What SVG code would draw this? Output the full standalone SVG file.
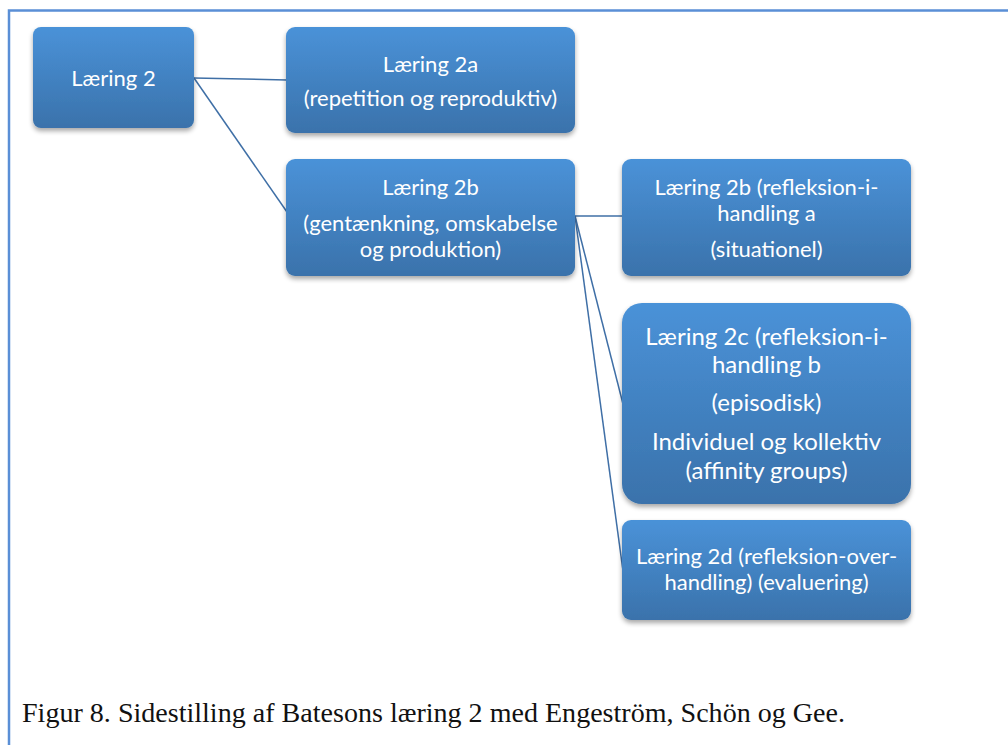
<svg xmlns="http://www.w3.org/2000/svg" width="1008" height="745" viewBox="0 0 1008 745">
  <defs>
    <linearGradient id="boxFill" x1="0" y1="0" x2="0" y2="1">
      <stop offset="0" stop-color="#4a92d8"/>
      <stop offset="1" stop-color="#3a72ab"/>
    </linearGradient>
    <filter id="shadow" x="-10%" y="-10%" width="120%" height="130%">
      <feGaussianBlur in="SourceAlpha" stdDeviation="2.5"/>
      <feOffset dx="0" dy="3" result="b"/>
      <feComponentTransfer><feFuncA type="linear" slope="0.35"/></feComponentTransfer>
      <feMerge><feMergeNode/><feMergeNode in="SourceGraphic"/></feMerge>
    </filter>
    <style>
      .box { fill: url(#boxFill); filter: url(#shadow); }
      .lbl { fill: #ffffff; font-family: Lato, "Open Sans", "Liberation Sans", sans-serif; font-size: 22px; text-anchor: middle; }
      .big { font-size: 24px; }
      .conn { stroke: #3f6fa6; stroke-width: 1.5; fill: none; }
      .cap { fill: #111111; font-family: "Liberation Serif", serif; font-size: 27px; }
    </style>
  </defs>
  <rect width="1008" height="745" fill="#ffffff"/>
  <!-- outer frame -->
  <path d="M9 760 V10.5 H1020" fill="none" stroke="#5a8fd6" stroke-width="2.5"/>

  <g id="connectors">
    <line class="conn" x1="194" y1="78" x2="287" y2="80"/>
    <line class="conn" x1="194" y1="78" x2="287" y2="212"/>
    <line class="conn" x1="575" y1="216" x2="623" y2="216"/>
    <line class="conn" x1="575" y1="216" x2="623" y2="404"/>
    <line class="conn" x1="575" y1="216" x2="623" y2="571"/>
  </g>

  <g id="node-laering2">
    <rect class="box" x="33" y="27" width="161" height="101" rx="8"/>
    <text class="lbl" x="113.5" y="86">Læring 2</text>
  </g>
  <g id="node-laering2a">
    <rect class="box" x="286" y="27" width="289" height="106" rx="9"/>
    <text class="lbl" x="430.5" y="72">Læring 2a</text>
    <text class="lbl" x="430.5" y="106">(repetition og reproduktiv)</text>
  </g>
  <g id="node-laering2b">
    <rect class="box" x="286" y="159" width="289" height="117" rx="9"/>
    <text class="lbl" x="430.5" y="195">Læring 2b</text>
    <text class="lbl" x="430.5" y="231">(gentænkning, omskabelse</text>
    <text class="lbl" x="430.5" y="257">og produktion)</text>
  </g>
  <g id="node-laering2b-refleksion">
    <rect class="box" x="622" y="159" width="289" height="117" rx="9"/>
    <text class="lbl" x="766.5" y="195">Læring 2b (refleksion-i-</text>
    <text class="lbl" x="766.5" y="221">handling a</text>
    <text class="lbl" x="766.5" y="257">(situationel)</text>
  </g>
  <g id="node-laering2c">
    <rect class="box" x="622" y="303" width="289" height="201" rx="20"/>
    <text class="lbl big" x="766.5" y="345">Læring 2c (refleksion-i-</text>
    <text class="lbl big" x="766.5" y="373">handling b</text>
    <text class="lbl big" x="766.5" y="411">(episodisk)</text>
    <text class="lbl big" x="766.5" y="450">Individuel og kollektiv</text>
    <text class="lbl big" x="766.5" y="479">(affinity groups)</text>
  </g>
  <g id="node-laering2d">
    <rect class="box" x="622" y="520" width="289" height="100" rx="9"/>
    <text class="lbl" x="766.5" y="564">Læring 2d (refleksion-over-</text>
    <text class="lbl" x="766.5" y="590">handling) (evaluering)</text>
  </g>

  <text class="cap" x="22" y="722" textLength="823" lengthAdjust="spacingAndGlyphs">Figur 8. Sidestilling af Batesons læring 2 med Engeström, Schön og Gee.</text>
</svg>
